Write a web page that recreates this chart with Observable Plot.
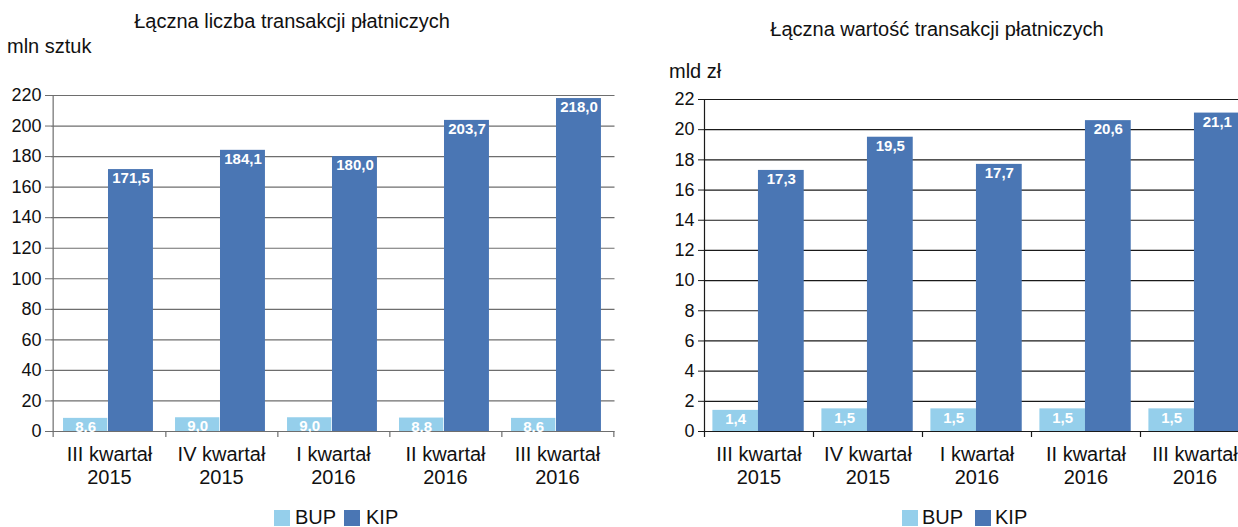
<!DOCTYPE html>
<html>
<head>
<meta charset="utf-8">
<script src="https://cdn.jsdelivr.net/npm/d3@7"></script>
<script src="https://cdn.jsdelivr.net/npm/@observablehq/plot@0.6"></script>
<style>
  html, body { margin: 0; padding: 0; background: #fff; }
  #wrap { position: relative; width: 1238px; height: 527px; overflow: hidden; font-family: "Liberation Sans", Arial, sans-serif; color: #111; }
  .abs { position: absolute; white-space: nowrap; }
  .title { font-size: 20px; line-height: 23px; transform: translateX(-50%); }
  .unit { font-size: 20px; line-height: 23px; }
  .sw { position: absolute; width: 16px; height: 16px; }
  .lg { position: absolute; font-size: 20px; line-height: 20px; }
  svg { overflow: visible; max-width: none !important; }
</style>
</head>
<body>
<div id="wrap">
  <div class="abs title" style="left:292px; top:10px;">Łączna liczba transakcji płatniczych</div>
  <div class="abs unit" style="left:7px; top:35px;">mln sztuk</div>
  <div class="abs title" style="left:937px; top:18px;">Łączna wartość transakcji płatniczych</div>
  <div class="abs unit" style="left:669px; top:60px;">mld zł</div>
  <div id="left" class="abs" style="left:0; top:0; width:619px;"></div>
  <div id="right" class="abs" style="left:619px; top:0; width:630px;"></div>
  <div class="sw" style="left:274px; top:510px; background:#95CFEB;"></div>
  <div class="lg" style="left:295px; top:507px;">BUP</div>
  <div class="sw" style="left:344px; top:510px; background:#4A76B4;"></div>
  <div class="lg" style="left:366px; top:507px;">KIP</div>
  <div class="sw" style="left:902px; top:510px; background:#95CFEB;"></div>
  <div class="lg" style="left:922px; top:507px;">BUP</div>
  <div class="sw" style="left:975px; top:510px; background:#4A76B4;"></div>
  <div class="lg" style="left:995px; top:507px;">KIP</div>
</div>
<script>
const quarters = ["III kwartał 2015", "IV kwartał 2015", "I kwartał 2016", "II kwartał 2016", "III kwartał 2016"];
const quarterLabels = ["III kwartał\n2015", "IV kwartał\n2015", "I kwartał\n2016", "II kwartał\n2016", "III kwartał\n2016"];

const countBUP = [8.6, 9.0, 9.0, 8.8, 8.6];
const countKIP = [171.5, 184.1, 180.0, 203.7, 218.0];
const countTicks = [0, 20, 40, 60, 80, 100, 120, 140, 160, 180, 200, 220];

const valueBUP = [1.4, 1.5, 1.5, 1.5, 1.5];
const valueKIP = [17.3, 19.5, 17.7, 20.6, 21.1];
const valueTicks = [0, 2, 4, 6, 8, 10, 12, 14, 16, 18, 20, 22];

const seriesColors = { BUP: "#95CFEB", KIP: "#4A76B4" };
const fmt = v => v.toFixed(1).replace(".", ",");

function chart({bup, kip, ticks, width, height, mL, mR, mT, mB, gridColor, axisColor, f}) {
  const bw = (width - mL - mR) / quarters.length;
  const rows = quarters.map((q, i) => ({q, bup: bup[i], kip: kip[i]}));
  const top = ticks[ticks.length - 1];
  const bupC = (f[0] + f[1]) / 2 - 0.5, kipC = (f[1] + f[2]) / 2 - 0.5;
  const labelStyle = {fill: "white", fontWeight: "bold", fontSize: 15, lineAnchor: "top", dy: 3,
    fontFamily: "'Liberation Sans Narrow', 'Liberation Sans', sans-serif", letterSpacing: "-0.4px"};
  const labelMap = new Map(quarters.map((q, i) => [q, quarterLabels[i]]));
  return Plot.plot({
    width, height,
    marginLeft: mL, marginRight: mR, marginTop: mT, marginBottom: mB,
    style: {fontFamily: "'Liberation Sans', Arial, sans-serif", background: "transparent", color: "#111", overflow: "visible", maxWidth: "none"},
    x: {domain: quarters, padding: 0, axis: null},
    y: {domain: [0, top], axis: null},
    marks: [
      Plot.ruleY(ticks, {stroke: gridColor, strokeWidth: 1.2}),
      Plot.barY(rows, {x: "q", y: "bup", fill: seriesColors.BUP, insetLeft: f[0] * bw, insetRight: (1 - f[1]) * bw}),
      Plot.barY(rows, {x: "q", y: "kip", fill: seriesColors.KIP, insetLeft: f[1] * bw, insetRight: (1 - f[2]) * bw}),
      Plot.text(rows, {x: "q", y: "bup", text: d => fmt(d.bup), dx: bupC * bw, ...labelStyle}),
      Plot.text(rows, {x: "q", y: "kip", text: d => fmt(d.kip), dx: kipC * bw, ...labelStyle}),
      Plot.ruleX([quarters[0]], {dx: -bw / 2, y1: top, y2: 0, insetBottom: -6, stroke: axisColor, strokeWidth: 1.2}),
      Plot.ruleX(quarters, {dx: bw / 2, y1: 0, y2: 0, insetBottom: -6, stroke: axisColor, strokeWidth: 1.2}),
      Plot.axisY(ticks, {tickSize: 6, tickPadding: 4, fontSize: 18, stroke: axisColor, fill: "#111", label: null}),
      Plot.axisX({tickSize: 0, tickPadding: 13, fontSize: 20, lineHeight: 1.15, fill: "#111", label: null, tickFormat: q => labelMap.get(q)})
    ]
  });
}

document.getElementById("left").append(chart({
  bup: countBUP, kip: countKIP, ticks: countTicks,
  width: 619, height: 500, mL: 51, mR: 4.5, mT: 95, mB: 69,
  gridColor: "#6e6e6e", axisColor: "#6e6e6e", f: [0.089, 0.488, 0.893]
}));
document.getElementById("right").append(chart({
  bup: valueBUP, kip: valueKIP, ticks: valueTicks,
  width: 630, height: 500, mL: 85, mR: 0, mT: 99, mB: 69,
  gridColor: "#1a1a1a", axisColor: "#1a1a1a", f: [0.077, 0.495, 0.915]
}));
</script>
</body>
</html>
